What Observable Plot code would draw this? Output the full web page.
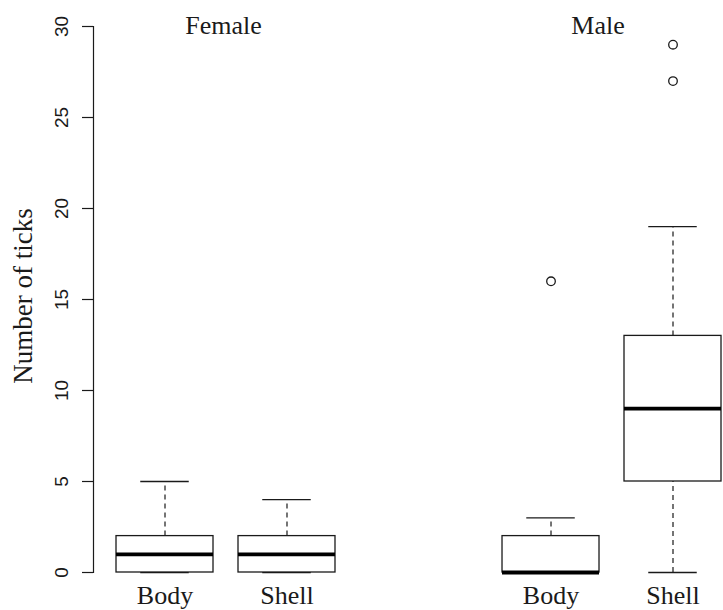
<!DOCTYPE html>
<html>
<head>
<meta charset="utf-8">
<script src="https://cdn.jsdelivr.net/npm/d3@7"></script>
<script src="https://cdn.jsdelivr.net/npm/@observablehq/plot@0.6"></script>
<style>
  html, body { margin: 0; padding: 0; background: #fff; }
  #chart svg { display: block; }
</style>
</head>
<body>
<div id="chart"></div>
<script>
// ---- data ----
const sexes = ["Female", "Female", "Male", "Male"];
const locations = ["Body", "Shell", "Body", "Shell"];
const whiskerLow = [0, 0, 0, 0];
const q1 = [0, 0, 0, 5];
const medians = [1, 1, 0, 9];
const q3 = [2, 2, 2, 13];
const whiskerHigh = [5, 4, 3, 19];
const outlierSex = ["Male", "Male", "Male"];
const outlierLoc = ["Body", "Shell", "Shell"];
const outlierValues = [16, 27, 29];
const yTicks = [0, 5, 10, 15, 20, 25, 30];
const panelTitles = ["Female", "Male"];
const yLabel = "Number of ticks";

const stats = sexes.map((s, i) => ({
  sex: s, loc: locations[i], lo: whiskerLow[i], q1: q1[i],
  med: medians[i], q3: q3[i], hi: whiskerHigh[i]
}));
const outliers = outlierValues.map((v, i) => ({sex: outlierSex[i], loc: outlierLoc[i], v}));

const SERIF = "'Liberation Serif', 'Times New Roman', serif";
const SANS = "'Liberation Sans', Arial, sans-serif";
const INK = "#1a1a1a";

const chart = Plot.plot({
  width: 723,
  height: 610,
  marginLeft: 93,
  marginRight: 0,
  marginTop: 26,
  marginBottom: 38,
  style: {background: "#fff", color: INK},
  fx: {domain: ["Female", "Male"], paddingInner: 0.3679, paddingOuter: 0, round: false, axis: null, label: null},
  x: {domain: ["Body", "Shell"], paddingInner: 0.2049, paddingOuter: 0.1025, align: 0.92, round: false, axis: null, label: null},
  y: {domain: [0, 30], axis: null, label: null},
  marks: [
    // y axis line and ticks (left panel only)
    Plot.frame({anchor: "left", facetAnchor: "left", stroke: INK, strokeWidth: 1.2}),
    Plot.axisY(yTicks, {anchor: "left", tickSize: 11, tickFormat: () => "", label: null, stroke: INK, strokeWidth: 1.2}),
    Plot.text(yTicks, {y: d => d, text: d => String(d), frameAnchor: "left", textAnchor: "middle", dx: -32, rotate: -90,
      fontSize: 19, fontFamily: SANS, fill: INK, facetAnchor: "left"}),
    Plot.text([yLabel], {text: d => d, frameAnchor: "left", textAnchor: "middle", dx: -70, dy: -3.5, rotate: -90,
      fontSize: 27, fontFamily: SERIF, fill: INK, facetAnchor: "left"}),
    // x labels
    Plot.axisX({anchor: "bottom", tickSize: 0, tickPadding: 13, fontSize: 26, fontFamily: SERIF, label: null, fill: INK}),
    // panel titles
    Plot.text(panelTitles.filter(d => d === "Female"), {fx: d => d, text: d => d, frameAnchor: "top", lineAnchor: "top",
      dy: -11, dx: 8, fontSize: 26, fontFamily: SERIF, fill: INK}),
    Plot.text(panelTitles.filter(d => d === "Male"), {fx: d => d, text: d => d, frameAnchor: "top", lineAnchor: "top",
      dy: -11, dx: -3.5, fontSize: 26, fontFamily: SERIF, fill: INK}),
    // whiskers
    Plot.ruleX(stats, {fx: "sex", x: "loc", y1: "q3", y2: "hi", stroke: INK, strokeWidth: 1.2, strokeDasharray: "5,4"}),
    Plot.ruleX(stats, {fx: "sex", x: "loc", y1: "lo", y2: "q1", stroke: INK, strokeWidth: 1.2, strokeDasharray: "5,4"}),
    // staples
    Plot.tickY(stats, {fx: "sex", x: "loc", y: "hi", insetLeft: 24.25, insetRight: 24.25, stroke: INK, strokeWidth: 1.3}),
    Plot.tickY(stats, {fx: "sex", x: "loc", y: "lo", insetLeft: 24.25, insetRight: 24.25, stroke: INK, strokeWidth: 1.3}),
    // boxes
    Plot.barY(stats, {fx: "sex", x: "loc", y1: "q1", y2: "q3", fill: "white", stroke: INK, strokeWidth: 1.3}),
    // medians
    Plot.tickY(stats, {fx: "sex", x: "loc", y: "med", stroke: "#000", strokeWidth: 3.8}),
    // outliers
    Plot.dot(outliers, {fx: "sex", x: "loc", y: "v", r: 4.3, stroke: INK, strokeWidth: 1.3, fill: "none"})
  ]
});
document.getElementById("chart").appendChild(chart);
</script>
</body>
</html>
